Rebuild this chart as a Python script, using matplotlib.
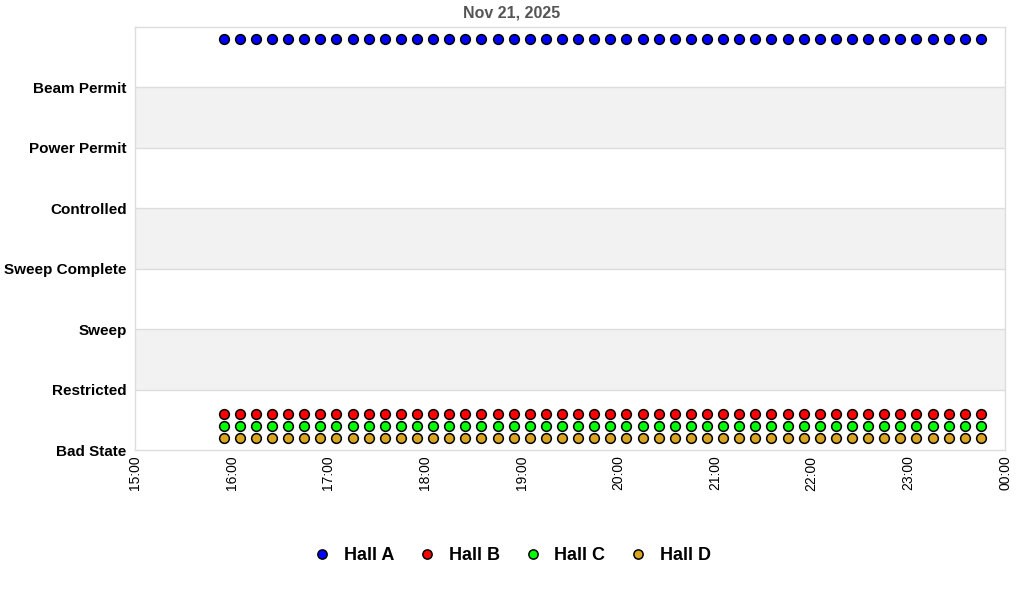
import matplotlib
matplotlib.use("Agg")
import matplotlib.pyplot as plt
import matplotlib.dates as mdates
import pandas as pd
from datetime import datetime

plt.rcParams['font.family'] = ['Liberation Sans', 'DejaVu Sans']

categories = ["Bad State", "Restricted", "Sweep", "Sweep Complete",
              "Controlled", "Power Permit", "Beam Permit"]
times = pd.date_range("2025-11-21 15:55", "2025-11-21 23:45", freq="10min")
n = len(times)
hall_a = [6.8] * n
hall_b = [0.6] * n
hall_c = [0.4] * n
hall_d = [0.2] * n
series = [("Hall A", hall_a, "#0000ff"), ("Hall B", hall_b, "#ff0000"),
          ("Hall C", hall_c, "#00ff00"), ("Hall D", hall_d, "#daa520")]

fig = plt.figure(figsize=(10.24, 6), dpi=100)
ax = fig.add_axes([135/1024, 1-450/600, 870/1024, 423/600])

ax.set_ylim(0, 7)
xmin = datetime(2025, 11, 21, 15, 0)
xmax = datetime(2025, 11, 22, 0, 0)
ax.set_xlim(xmin, xmax)

for lo in (1, 3, 5):
    ax.axhspan(lo, lo + 1, color="#f2f2f2", zorder=0, lw=0)
for i in range(1, 7):
    ax.axhline(i, color="#dddddd", lw=1, zorder=1)

for name, vals, col in series:
    ax.plot(times, vals, linestyle="none", marker="o", markersize=7,
            markerfacecolor=col, markeredgecolor="black", markeredgewidth=1.1,
            label=name, zorder=3)

ax.set_yticks(range(len(categories)))
ax.set_yticklabels(categories, fontsize=11, fontweight="bold")
ax.xaxis.set_major_locator(mdates.HourLocator())
ax.xaxis.set_major_formatter(mdates.DateFormatter("%H:%M"))
for lab in ax.get_xticklabels():
    lab.set_rotation(90)
    lab.set_fontsize(10)
ax.tick_params(axis="both", length=0, pad=6)
ax.tick_params(axis="x", pad=4)
for s in ax.spines.values():
    s.set_color("#dddddd")
    s.set_linewidth(1)

fig.text(0.5, 1-13/600, "Nov 21, 2025", ha="center", va="center",
         fontsize=11.5, fontweight="bold", color="#555555")

fig.legend(loc="center", bbox_to_anchor=(0.5, 1-556/600), ncol=4, frameon=False,
           prop={"size": 13, "weight": "bold"}, handlelength=1.0,
           handletextpad=0.67, columnspacing=1.35, markerscale=0.95)

fig.savefig("out.png", dpi=100)
